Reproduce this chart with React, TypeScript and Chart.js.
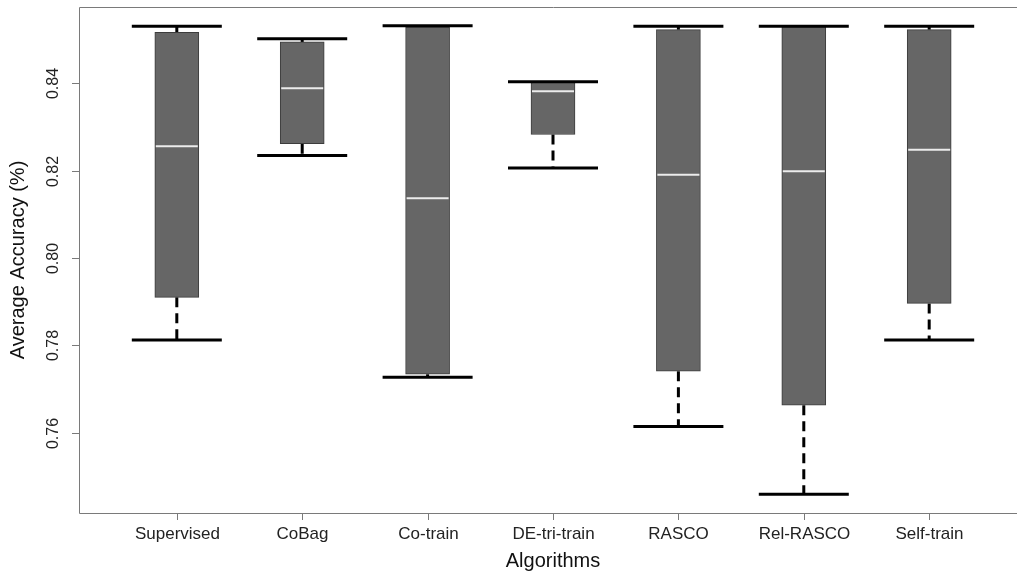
import React, { useEffect, useRef } from "react";
import { Chart, registerables } from "chart.js";

Chart.register(...registerables);

const categories = ["Supervised", "CoBag", "Co-train", "DE-tri-train", "RASCO", "Rel-RASCO", "Self-train"];
const whiskerLow = [0.7812, 0.8235, 0.7727, 0.8206, 0.7614, 0.7459, 0.7812];
const q1 = [0.791, 0.8262, 0.7734, 0.8283, 0.7741, 0.7663, 0.7896];
const medians = [0.8256, 0.8389, 0.8137, 0.8382, 0.8191, 0.8199, 0.8248];
const q3 = [0.8517, 0.8495, 0.8529, 0.8402, 0.8523, 0.853, 0.8523];
const whiskerHigh = [0.8531, 0.8502, 0.8532, 0.8404, 0.8531, 0.8531, 0.8531];
const yTicks = [0.76, 0.78, 0.8, 0.82, 0.84];
const xTitle = "Algorithms";
const yTitle = "Average Accuracy (%)";

const FONT = "'Liberation Sans', Arial, sans-serif";

const axesPlugin = {
  id: "rAxes",
  afterDraw(chart: any) {
    const { ctx, chartArea, scales } = chart;
    const xs = scales.x;
    const ys = scales.y;
    const { left, right, top, bottom } = chartArea;
    ctx.save();
    ctx.strokeStyle = "#7a7a7a";
    ctx.lineWidth = 1;
    ctx.beginPath();
    ctx.rect(Math.round(left) + 0.5, Math.round(top) + 0.5, Math.round(right - left), Math.round(bottom - top));
    ctx.stroke();
    // y ticks
    ctx.fillStyle = "#222";
    ctx.font = `16px ${FONT}`;
    ctx.textAlign = "center";
    ctx.textBaseline = "middle";
    yTicks.forEach((v) => {
      const py = Math.round(ys.getPixelForValue(v)) + 0.5;
      ctx.beginPath();
      ctx.moveTo(left - 7, py);
      ctx.lineTo(left, py);
      ctx.stroke();
      ctx.save();
      ctx.translate(left - 25, py);
      ctx.rotate(-Math.PI / 2);
      ctx.fillText(v.toFixed(2), 0, 0);
      ctx.restore();
    });
    // x ticks
    ctx.font = `17px ${FONT}`;
    categories.forEach((c, i) => {
      const px = Math.round(xs.getPixelForValue(i + 1)) + 0.5;
      ctx.beginPath();
      ctx.moveTo(px, bottom);
      ctx.lineTo(px, bottom + 7);
      ctx.stroke();
      ctx.fillText(c, px, bottom + 21);
    });
    // titles
    ctx.font = `20px ${FONT}`;
    ctx.fillStyle = "#111";
    ctx.fillText(xTitle, (left + right) / 2, bottom + 48);
    ctx.save();
    ctx.translate(18, (top + bottom) / 2);
    ctx.rotate(-Math.PI / 2);
    ctx.fillText(yTitle, 0, 0);
    ctx.restore();
    ctx.restore();
  },
};

export default function App() {
  const ref = useRef<HTMLCanvasElement>(null);
  useEffect(() => {
    if (!ref.current) return;
    const lo = Math.min(...whiskerLow);
    const hi = Math.max(...whiskerHigh);
    const ext = (hi - lo) * 0.04;
    const n = categories.length;
    const xext = n * 0.04;

    const whiskerData: any[] = [];
    categories.forEach((_, i) => {
      whiskerData.push({ x: i + 1, y: q1[i] }, { x: i + 1, y: whiskerLow[i] }, { x: i + 1, y: null });
      whiskerData.push({ x: i + 1, y: q3[i] }, { x: i + 1, y: whiskerHigh[i] }, { x: i + 1, y: null });
    });
    const capData: any[] = [];
    categories.forEach((_, i) => {
      capData.push({ x: i + 1, y: whiskerLow[i] }, { x: i + 1, y: whiskerHigh[i] });
    });

    const chart = new Chart(ref.current, {
      type: "bar",
      data: {
        datasets: [
          {
            type: "line",
            data: whiskerData,
            borderColor: "#000",
            borderWidth: 3,
            borderDash: [10, 6],
            pointRadius: 0,
            spanGaps: false,
            order: 4,
          } as any,
          {
            type: "bar",
            data: categories.map((_, i) => ({ x: i + 1, y: [q1[i], q3[i]] })),
            backgroundColor: "#666666",
            borderColor: "#3c3c3c",
            borderWidth: 1,
            borderSkipped: false,
            barThickness: 44,
            order: 3,
          } as any,
          {
            type: "scatter",
            data: categories.map((_, i) => ({ x: i + 1, y: medians[i] })),
            pointStyle: "line",
            pointRadius: 21,
            borderColor: "#ececec",
            borderWidth: 2,
            order: 2,
          } as any,
          {
            type: "scatter",
            data: capData,
            pointStyle: "line",
            pointRadius: 45,
            borderColor: "#000",
            borderWidth: 3,
            order: 1,
          } as any,
        ],
      },
      options: {
        animation: false,
        responsive: false,
        events: [],
        layout: { autoPadding: false, padding: { left: 79, top: 7, right: 13, bottom: 58 } },
        plugins: { legend: { display: false }, tooltip: { enabled: false } },
        scales: {
          x: { type: "linear", display: false, offset: false, min: 0.5 - xext, max: n + 0.5 + xext },
          y: { type: "linear", display: false, min: lo - ext, max: hi + ext },
        },
      },
      plugins: [axesPlugin],
    } as any);
    return () => chart.destroy();
  }, []);

  return (
    <div style={{ position: "fixed", left: 0, top: 0, width: 1017, height: 571, overflow: "hidden", background: "#fff" }}>
      <canvas ref={ref} width={1040} height={571} style={{ display: "block", width: 1040, height: 571 }} />
    </div>
  );
}
